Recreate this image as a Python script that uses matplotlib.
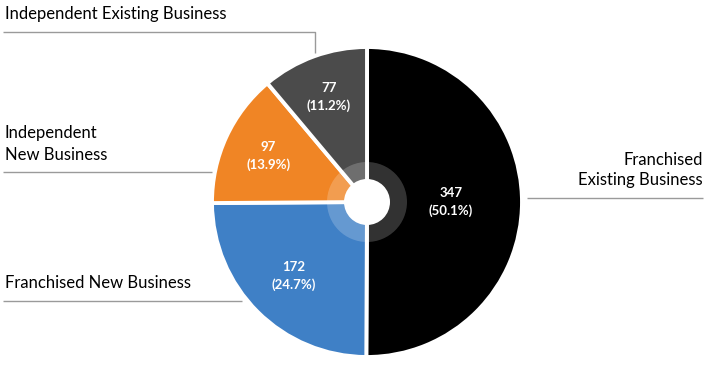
import numpy as np
import matplotlib

matplotlib.use("Agg")
import matplotlib.pyplot as plt
from matplotlib.patches import Circle

# data
categories = ["Franchised\nExisting Business", "Franchised New Business",
              "Independent\nNew Business", "Independent Existing Business"]
counts = [347, 172, 97, 77]
pct_labels = ["50.1%", "24.7%", "13.9%", "11.2%"]
colors = ["#000000", "#3F80C6", "#F08525", "#4B4B4B"]

W, H = 710, 368
cx, cy, R = 367, H - 202, 155
label_dist = [0.54, 0.67, 0.70, 0.72]

plt.rcParams["font.family"] = ["Lato", "DejaVu Sans"]

fig = plt.figure(figsize=(W / 100, H / 100), dpi=100)
ax = fig.add_axes([0, 0, 1, 1])

wedges, _ = ax.pie(counts, colors=colors, startangle=90, counterclock=False,
                   center=(cx, cy), radius=R, frame=True,
                   wedgeprops=dict(edgecolor="white", linewidth=2.8))
ax.set_xlim(0, W)
ax.set_ylim(0, H)
ax.set_aspect("equal")
ax.axis("off")

# inner lighter ring and hole
ax.add_patch(Circle((cx, cy), 40, facecolor="white", alpha=0.2, lw=0, zorder=3))
ax.add_patch(Circle((cx, cy), 23, facecolor="white", lw=0, zorder=4))

for w, n, p, d in zip(wedges, counts, pct_labels, label_dist):
    ang = np.deg2rad((w.theta1 + w.theta2) / 2)
    x = cx + d * R * np.cos(ang)
    y = cy + d * R * np.sin(ang)
    ax.text(x, y, f"{n}\n({p})", color="white", ha="center", va="center",
            fontsize=9.5, fontweight="bold", linespacing=1.5, zorder=5)

line_kw = dict(color="#9A9A9A", lw=1.0, solid_capstyle="butt")

# Independent Existing Business
ax.text(5, H - 14, categories[3], ha="left", va="center", fontsize=12)
ax.plot([3, 315, 315], [H - 32, H - 32, H - 53], **line_kw)

# Independent New Business
ax.text(5, H - 144, categories[2], ha="left", va="center", fontsize=12,
        linespacing=1.4)
ax.plot([3, 212], [H - 172, H - 172], **line_kw)

# Franchised New Business
ax.text(5, H - 283, categories[1], ha="left", va="center", fontsize=12)
ax.plot([3, 242], [H - 301, H - 301], **line_kw)

# Franchised Existing Business
ax.text(703, H - 170, categories[0], ha="right", va="center", fontsize=12,
        linespacing=1.35, multialignment="right")
ax.plot([527, 703], [H - 198, H - 198], **line_kw)

fig.savefig("out.png", dpi=100)
